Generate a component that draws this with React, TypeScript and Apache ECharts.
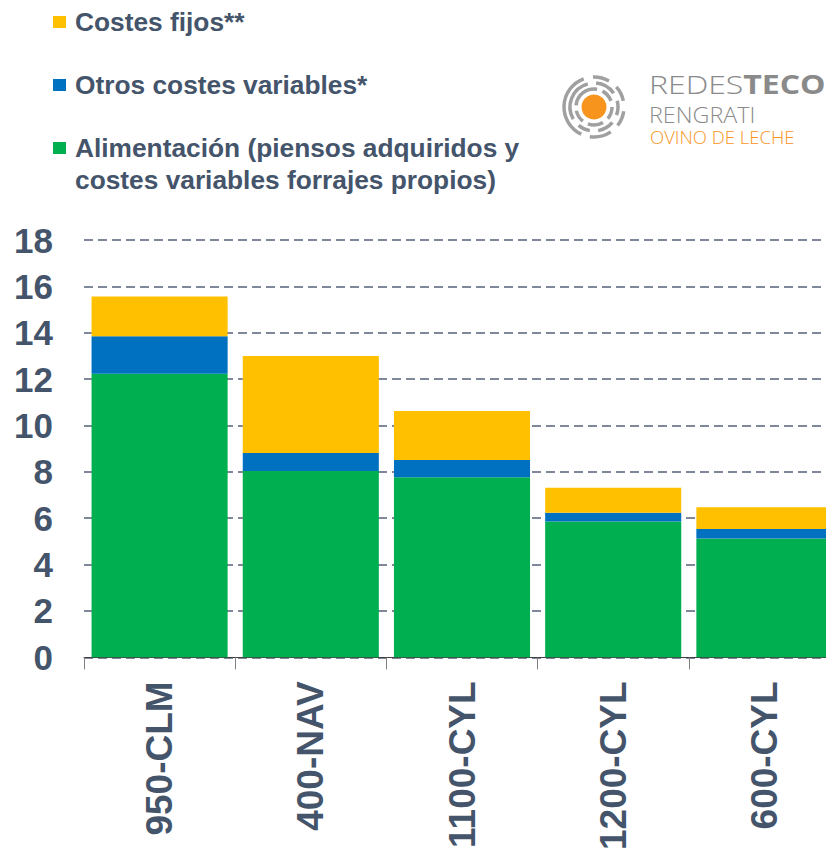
import React, { useEffect, useRef } from "react";
import * as echarts from "echarts";

const categories = ["950-CLM", "400-NAV", "1100-CYL", "1200-CYL", "600-CYL"];
const alimentacion = [12.23, 8.04, 7.77, 5.86, 5.13];
const otrosVariables = [1.62, 0.77, 0.74, 0.38, 0.41];
const costesFijos = [1.71, 4.19, 2.11, 1.07, 0.93];
const yTicks = { min: 0, max: 18, interval: 2 };

const NAME_FIJOS = "Costes fijos**";
const NAME_OTROS = "Otros costes variables*";
const NAME_ALIM = "Alimentación (piensos adquiridos y costes variables forrajes propios)";

const TEXT_COLOR = "#44546A";
const FONT = "'Liberation Sans', Arial, sans-serif";
const LOGO_FONT = "'Open Sans', sans-serif";

const logoArcs: [number, number, number][] = [
  [30, 115, 250], [30, 268, 300], [30, 318, 348], [30, 8, 38], [30, 56, 98],
  [24, 150, 255], [24, 275, 325], [24, 345, 20], [24, 40, 80], [24, 100, 130],
  [18, 185, 280], [18, 298, 340], [18, 0, 40], [18, 60, 110], [18, 128, 168],
];

export default function App() {
  const ref = useRef<HTMLDivElement>(null);
  useEffect(() => {
    if (!ref.current) return;
    const chart = echarts.init(ref.current, null, { renderer: "svg" });
    const legendBase = {
      orient: "vertical" as const,
      left: 53,
      padding: 0,
      icon: "rect",
      itemWidth: 13,
      itemHeight: 12,
      textStyle: {
        color: TEXT_COLOR,
        fontFamily: FONT,
        fontWeight: "bold" as const,
        fontSize: 26.3,
        lineHeight: 30,
        padding: [0, 0, 0, 4],
      },
    };
    const cx = 594;
    const cy = 107;
    const arcs = logoArcs.map(([r, s, e]) => ({
      type: "arc",
      shape: {
        cx,
        cy,
        r,
        startAngle: (s * Math.PI) / 180,
        endAngle: (e * Math.PI) / 180,
        clockwise: true,
      },
      style: { stroke: "#a0a0a0", lineWidth: 3.5, fill: "none" },
      silent: true,
    }));
    chart.setOption({
      animation: false,
      backgroundColor: "#ffffff",
      legend: [
        { ...legendBase, top: 7, data: [NAME_FIJOS] },
        { ...legendBase, top: 70, data: [NAME_OTROS] },
        {
          ...legendBase,
          top: 133,
          data: [NAME_ALIM],
          formatter: () => "Alimentación (piensos adquiridos y",
        },
      ],
      graphic: [
        {
          type: "text",
          x: 75,
          y: 180,
          style: {
            text: "costes variables forrajes propios)",
            fill: TEXT_COLOR,
            font: `bold 26.3px ${FONT}`,
            textVerticalAlign: "middle",
          },
        },
        ...arcs,
        {
          type: "circle",
          shape: { cx, cy, r: 12.5 },
          style: { fill: "#F7941D" },
        },
        {
          type: "text",
          x: 649,
          y: 84,
          scaleX: 1.23,
          style: {
            text: "{a|REDES}{b|TECO}",
            textVerticalAlign: "middle",
            rich: {
              a: { fontSize: 26, lineHeight: 26, fontFamily: LOGO_FONT, fontWeight: 300, fill: "#8a8a8a" },
              b: { fontSize: 26, lineHeight: 26, fontFamily: LOGO_FONT, fontWeight: "bold", fill: "#8a8a8a" },
            },
          },
        },
        {
          type: "text",
          x: 649,
          y: 115,
          scaleX: 1.06,
          style: {
            text: "RENGRATI",
            textVerticalAlign: "middle",
            font: `300 22px ${LOGO_FONT}`,
            lineHeight: 22,
            fill: "#8a8a8a",
          },
        },
        {
          type: "text",
          x: 650,
          y: 136,
          style: {
            text: "OVINO DE LECHE",
            textVerticalAlign: "middle",
            font: `300 18.5px ${LOGO_FONT}`,
            lineHeight: 18,
            fill: "#F7941D",
          },
        },
      ],
      grid: { left: 84, top: 240, width: 756, height: 421, containLabel: false },
      xAxis: {
        type: "category",
        data: categories,
        axisLine: { show: true, lineStyle: { color: "#404040", width: 1 } },
        axisTick: { show: true, length: 12, lineStyle: { color: "#808080", width: 1 } },
        axisLabel: {
          rotate: 90,
          margin: 24,
          color: TEXT_COLOR,
          fontFamily: FONT,
          fontWeight: "bold",
          fontSize: 37,
          interval: 0,
        },
      },
      yAxis: {
        type: "value",
        min: yTicks.min,
        max: yTicks.max,
        interval: yTicks.interval,
        axisLine: { show: false },
        axisTick: { show: false },
        axisLabel: {
          margin: 31,
          color: TEXT_COLOR,
          fontFamily: FONT,
          fontWeight: "bold",
          fontSize: 35,
        },
        splitLine: {
          lineStyle: { color: "#56627a", type: [9, 5], width: 1.5 },
        },
      },
      series: [
        {
          name: NAME_ALIM,
          type: "bar",
          stack: "total",
          data: alimentacion,
          barCategoryGap: "10%",
          itemStyle: { color: "#00B050" },
        },
        {
          name: NAME_OTROS,
          type: "bar",
          stack: "total",
          data: otrosVariables,
          barCategoryGap: "10%",
          itemStyle: { color: "#0070C0" },
        },
        {
          name: NAME_FIJOS,
          type: "bar",
          stack: "total",
          data: costesFijos,
          barCategoryGap: "10%",
          itemStyle: { color: "#FFC000" },
        },
      ],
    });
    return () => chart.dispose();
  }, []);
  return (
    <div
      style={{
        position: "absolute",
        left: 0,
        top: 0,
        width: 826,
        height: 853,
        overflow: "hidden",
      }}
    >
      <div ref={ref} style={{ width: 860, height: 853 }} />
    </div>
  );
}
